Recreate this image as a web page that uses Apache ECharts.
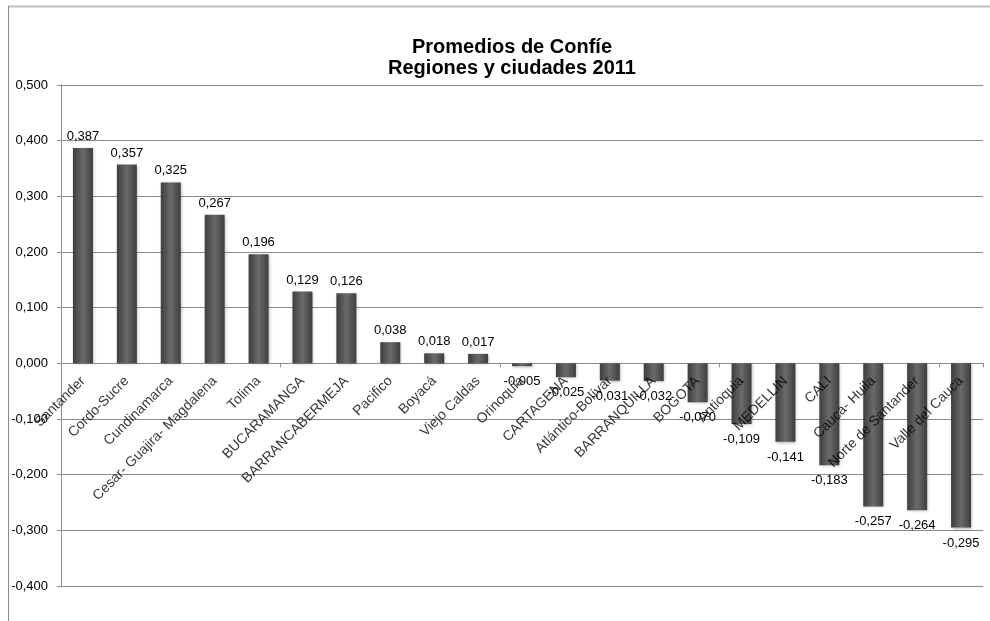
<!DOCTYPE html>
<html>
<head>
<meta charset="utf-8">
<script src="https://cdn.jsdelivr.net/npm/echarts@6/dist/echarts.min.js"></script>
<style>
html,body{margin:0;padding:0;background:#fff;}
#c{width:990px;height:621px;}
</style>
</head>
<body>
<div id="c"></div>
<script>
const categories = ["Santander","Cordo-Sucre","Cundinamarca","Cesar- Guajira- Magdalena","Tolima","BUCARAMANGA","BARRANCABERMEJA","Pacifico","Boyacá","Viejo Caldas","Orinoquia","CARTAGENA","Atlántico-Bolívar","BARRANQUILLA","BOGOTA","Antioquia","MEDELLIN","CALI","Cauca- Huila","Norte de Santander","Valle del Cauca"];
const values = [0.387,0.357,0.325,0.267,0.196,0.129,0.126,0.038,0.018,0.017,-0.005,-0.025,-0.031,-0.032,-0.070,-0.109,-0.141,-0.183,-0.257,-0.264,-0.295];
const titleLines = ["Promedios de Confíe","Regiones y ciudades 2011"];

const fmt = v => v.toFixed(3).replace('.', ',');
const chart = echarts.init(document.getElementById('c'), null, {renderer:'canvas'});
const barColor = new echarts.graphic.LinearGradient(0,0,1,0,[
  {offset:0,color:'#3e3e3e'},{offset:0.5,color:'#6a6a6a'},{offset:1,color:'#3e3e3e'}
]);
chart.setOption({
  animation:false,
  title:{
    text:titleLines.join('\n'),
    left:507, top:32, textAlign:'center',
    textStyle:{fontFamily:'Liberation Sans, Arial',fontSize:20,fontWeight:'bold',color:'#000',lineHeight:21}
  },
  graphic:[
    {type:'line',shape:{x1:8,y1:6.5,x2:990,y2:6.5},style:{stroke:'#bdbdbd',lineWidth:2},silent:true},
    {type:'line',shape:{x1:8.5,y1:6,x2:8.5,y2:621},style:{stroke:'#8a8a8a',lineWidth:1},silent:true}
  ],
  grid:{left:61,right:7,top:85,bottom:35,containLabel:false,outerBoundsMode:'none'},
  xAxis:{
    type:'category', data:categories,
    axisLine:{onZero:true,lineStyle:{color:'#8c8c8c'}},
    axisTick:{show:true,length:4,lineStyle:{color:'#8c8c8c'}},
    axisLabel:{show:false},
    splitLine:{show:false}
  },
  yAxis:{
    type:'value', min:-0.4, max:0.5, interval:0.1,
    axisLine:{show:true,lineStyle:{color:'#8c8c8c'}},
    axisTick:{show:true,length:4,lineStyle:{color:'#8c8c8c'}},
    axisLabel:{formatter:v=>fmt(Math.round(v*1000)/1000),fontFamily:'Liberation Sans, Arial',fontSize:13,color:'#000',margin:13},
    splitLine:{show:true,lineStyle:{color:'#8c8c8c',width:1}}
  },
  series:[{
    type:'bar', barWidth:20, z:2,
    data:values.map(v=>({value:v,label:{position: v>=0?'top':'bottom', distance: v>=0?5:9}})),
    itemStyle:{color:barColor,shadowColor:'rgba(0,0,0,0.3)',shadowBlur:3,shadowOffsetX:1,shadowOffsetY:1},
    label:{show:true,formatter:p=>fmt(p.value),fontFamily:'Liberation Sans, Arial',fontSize:13,color:'#000'}
  },{
    type:'scatter', z:5, symbolSize:0, silent:true,
    data:categories.map(c=>[c,0]),
    label:{show:true,position:'inside',formatter:p=>p.data[0],rotate:45,align:'right',verticalAlign:'middle',
      offset:[-11,11],fontFamily:'Liberation Sans, Arial',fontSize:14,color:'#000'}
  }]
});
</script>
</body>
</html>
